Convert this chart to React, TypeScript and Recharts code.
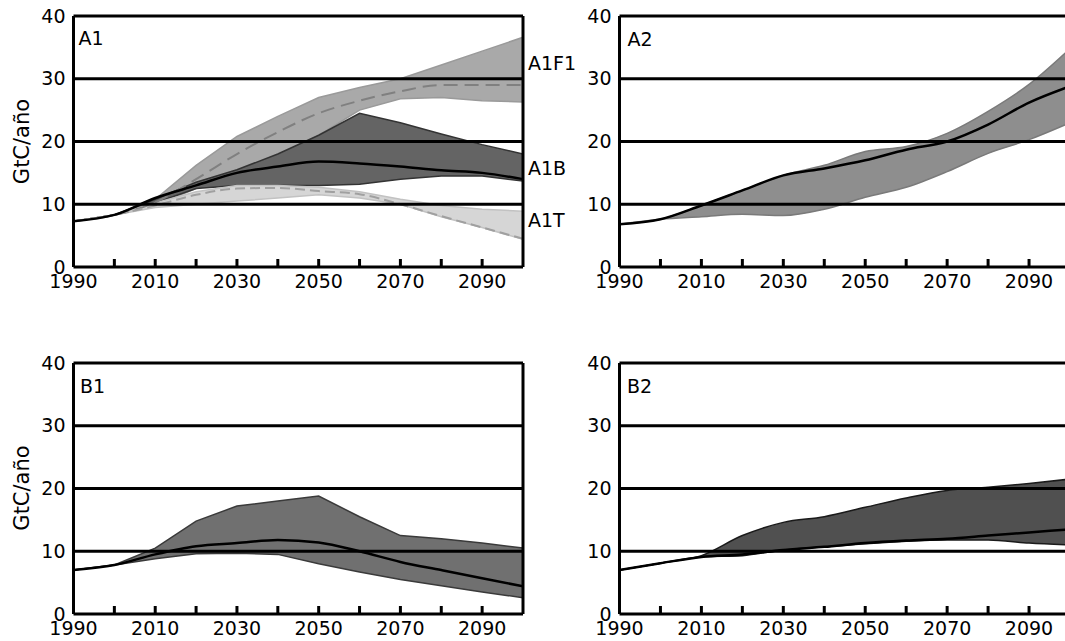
import React from 'react';
import { ComposedChart, Area, Line, XAxis, YAxis, ReferenceLine, ReferenceDot } from 'recharts';

const FONT = 'DejaVu Sans, Bitstream Vera Sans, sans-serif';

// Shared axes
const years = [1990, 2000, 2010, 2020, 2030, 2040, 2050, 2060, 2070, 2080, 2090, 2100];
const tickYears = [1990, 2000, 2010, 2020, 2030, 2040, 2050, 2060, 2070, 2080, 2090];
const labelYears = [1990, 2010, 2030, 2050, 2070, 2090];
const yTicks = [0, 10, 20, 30, 40];
const gridValues = [10, 20, 30, 40];
const yAxisLabel = 'GtC/año';

// Panel A1
const a1f1Low = [7.3, 8.3, 9.8, 12.5, 14.5, 17.5, 21, 25, 26.8, 27, 26.5, 26.3];
const a1f1High = [7.3, 8.3, 10.8, 16.2, 20.8, 24, 27, 28.6, 30, 32.2, 34.4, 36.6];
const a1f1Mid = [7.3, 8.3, 10.3, 14, 18, 21.5, 24.5, 26.5, 28, 29, 29, 29];
const a1bLow = [7.3, 8.3, 10.2, 12.5, 13, 13, 13, 13.2, 14, 14.5, 14.5, 13.7];
const a1bHigh = [7.3, 8.3, 10.8, 13.5, 15.5, 18, 21, 24.5, 23, 21.2, 19.5, 18];
const a1bMid = [7.3, 8.3, 11, 13, 15, 16, 16.8, 16.5, 16, 15.4, 15, 14];
const a1tLow = [7.3, 8.3, 9.5, 10, 10.5, 11, 11.5, 11, 10, 8, 6.3, 4.4];
const a1tHigh = [7.3, 8.3, 10.2, 12, 13, 13, 12.7, 12, 10.8, 9.8, 9.2, 8.9];
const a1tMid = [7.3, 8.3, 9.8, 11.5, 12.5, 12.6, 12.1, 11.6, 10, 8.1, 6.3, 4.5];
const a1SeriesNames = ['A1F1', 'A1B', 'A1T'];
const a1SeriesLabelY = [32.4, 15.8, 7.5];

// Panel A2
const a2Low = [6.8, 7.6, 8.0, 8.4, 8.2, 9.2, 11.1, 12.7, 15.2, 18.1, 20.3, 23];
const a2High = [6.8, 7.6, 9.8, 12.2, 14.6, 16.2, 18.4, 19.2, 21.3, 24.8, 29.1, 34.8];
const a2Mid = [6.8, 7.6, 9.8, 12.2, 14.6, 15.7, 17, 18.7, 20, 22.7, 26.2, 28.8];

// Panel B1
const b1Low = [7.0, 7.8, 8.8, 9.6, 9.7, 9.5, 8, 6.7, 5.5, 4.5, 3.5, 2.6];
const b1High = [7.0, 7.8, 10.5, 14.8, 17.2, 18, 18.8, 15.5, 12.5, 12, 11.3, 10.5];
const b1Mid = [7.0, 7.8, 9.5, 10.8, 11.3, 11.8, 11.4, 10, 8.3, 7, 5.7, 4.4];

// Panel B2
const b2Low = [7.0, 8.1, 9.1, 9.3, 10.2, 10.7, 11.2, 11.6, 11.8, 11.8, 11.3, 11];
const b2High = [7.0, 8.1, 9.3, 12.5, 14.6, 15.5, 17, 18.5, 19.7, 20.2, 20.8, 21.5];
const b2Mid = [7.0, 8.1, 9.1, 9.5, 10.2, 10.7, 11.3, 11.7, 12, 12.5, 13, 13.5];

const a1Data = years.map((year, i) => ({
  year,
  f1: [a1f1Low[i], a1f1High[i]],
  f1m: a1f1Mid[i],
  b: [a1bLow[i], a1bHigh[i]],
  bm: a1bMid[i],
  t: [a1tLow[i], a1tHigh[i]],
  tm: a1tMid[i],
}));
const a2Data = years.map((year, i) => ({ year, band: [a2Low[i], a2High[i]], mid: a2Mid[i] }));
const b1Data = years.map((year, i) => ({ year, band: [b1Low[i], b1High[i]], mid: b1Mid[i] }));
const b2Data = years.map((year, i) => ({ year, band: [b2Low[i], b2High[i]], mid: b2Mid[i] }));

const XTick = (props: any) => {
  const { x, y, payload } = props;
  const v = payload.value;
  const show = labelYears.includes(v);
  return (
    <g>
      <line x1={x} x2={x} y1={y} y2={y - 8} stroke="#000" strokeWidth={3} />
      {show && (
        <text x={x} y={y + 21} textAnchor="middle" fontSize={19} fontFamily={FONT} fill="#000">
          {String(v)}
        </text>
      )}
    </g>
  );
};

function Panel(props: any) {
  const { left, top, width, rightMargin, data, children } = props;
  return (
    <div style={{ position: 'absolute', left, top }}>
      <ComposedChart
        width={width}
        height={300}
        data={data}
        margin={{ top: 16, right: rightMargin, bottom: 0, left: 0 }}
      >
        <XAxis
          dataKey="year"
          type="number"
          domain={[1990, 2100]}
          ticks={tickYears}
          interval={0}
          tickSize={0}
          tickMargin={0}
          tickLine={false}
          tick={(p: any) => <XTick {...p} />}
          axisLine={{ stroke: '#000', strokeWidth: 3 }}
          height={33}
          allowDataOverflow
        />
        <YAxis
          type="number"
          domain={[0, 40]}
          ticks={yTicks}
          interval={0}
          width={73.5}
          tickSize={0}
          tickMargin={8}
          tickLine={false}
          axisLine={{ stroke: '#000', strokeWidth: 3 }}
          tick={{ fill: '#000', fontSize: 19, fontFamily: FONT }}
          allowDataOverflow
        />
        {children}
        {gridValues.map((v) => (
          <ReferenceLine key={'g' + v} y={v} stroke="#000" strokeWidth={3} />
        ))}
        <ReferenceLine x={2100} stroke="#000" strokeWidth={3} />
      </ComposedChart>
    </div>
  );
}

const bandProps = { isAnimationActive: false, strokeWidth: 1.5, fillOpacity: 1, dot: false, activeDot: false };
const lineProps = { isAnimationActive: false, dot: false, activeDot: false };

export default function App() {
  return (
    <div
      style={{
        position: 'absolute',
        left: 0,
        top: 0,
        width: 1065,
        height: 641,
        overflow: 'hidden',
        background: '#fff',
        fontFamily: FONT,
      }}
    >
      <Panel left={0} top={0} width={580} rightMargin={57} data={a1Data}>
        <Area type="linear" dataKey="f1" fill="#a9a9a9" stroke="#9a9a9a" {...bandProps} />
        <Line type="monotone" dataKey="f1m" stroke="#808080" strokeWidth={2} strokeDasharray="14 7" {...lineProps} />
        <Area type="linear" dataKey="b" fill="#646464" stroke="#333" {...bandProps} />
        <Area type="linear" dataKey="t" fill="#d6d6d6" stroke="#c2c2c2" {...bandProps} />
        <Line type="monotone" dataKey="tm" stroke="#a0a0a0" strokeWidth={2} strokeDasharray="10 5" {...lineProps} />
        <Line type="monotone" dataKey="bm" stroke="#000" strokeWidth={2.5} {...lineProps} />
        {a1SeriesNames.map((n, i) => (
          <ReferenceDot
            key={n}
            x={2100}
            y={a1SeriesLabelY[i]}
            r={1}
            fill="none"
            stroke="none"
            label={{ value: n, position: 'right', offset: 4, fill: '#000', fontSize: 19, fontFamily: FONT }}
          />
        ))}
      </Panel>
      <Panel left={546} top={0} width={534} rightMargin={10} data={a2Data}>
        <Area type="monotone" dataKey="band" fill="#8e8e8e" stroke="#7a7a7a" {...bandProps} />
        <Line type="monotone" dataKey="mid" stroke="#000" strokeWidth={2.5} {...lineProps} />
      </Panel>
      <Panel left={0} top={347} width={580} rightMargin={57} data={b1Data}>
        <Area type="linear" dataKey="band" fill="#707070" stroke="#3a3a3a" {...bandProps} />
        <Line type="monotone" dataKey="mid" stroke="#000" strokeWidth={2.5} {...lineProps} />
      </Panel>
      <Panel left={546} top={347} width={534} rightMargin={10} data={b2Data}>
        <Area type="monotone" dataKey="band" fill="#505050" stroke="#1a1a1a" {...bandProps} />
        <Line type="monotone" dataKey="mid" stroke="#000" strokeWidth={2.5} {...lineProps} />
      </Panel>
      <svg
        width={1065}
        height={641}
        style={{ position: 'absolute', left: 0, top: 0, pointerEvents: 'none' }}
      >
        <text x={78.5} y={45} fontSize={19} fontFamily={FONT} fill="#000">A1</text>
        <text x={627.5} y={45.5} fontSize={19} fontFamily={FONT} fill="#000">A2</text>
        <text x={80} y={392.5} fontSize={19} fontFamily={FONT} fill="#000">B1</text>
        <text x={627} y={393} fontSize={19} fontFamily={FONT} fill="#000">B2</text>
        <text transform="translate(21,141.5) rotate(-90)" dy="0.36em" textAnchor="middle" fontSize={21} fontFamily={FONT} fill="#000">{yAxisLabel}</text>
        <text transform="translate(21,488) rotate(-90)" dy="0.36em" textAnchor="middle" fontSize={21} fontFamily={FONT} fill="#000">{yAxisLabel}</text>
      </svg>
    </div>
  );
}
